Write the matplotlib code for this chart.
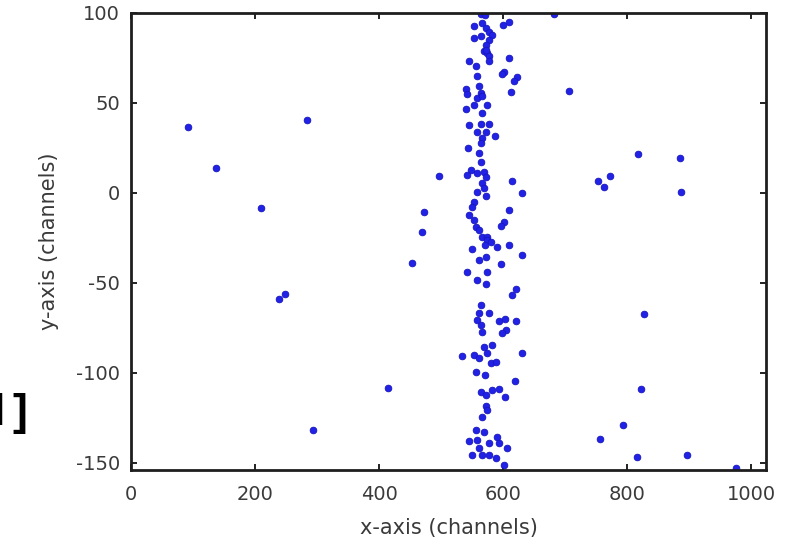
import matplotlib
matplotlib.use("Agg")
import matplotlib.pyplot as plt

plt.rcParams["axes.unicode_minus"] = False

# Hit positions (channel coordinates)
x_hits = [
    # central band
    563.8, 570.8, 609.6, 600.0, 553.0, 565.5, 573.0, 577.3, 581.6, 553.0,
    563.8, 577.3, 572.0, 569.0, 574.6, 577.3, 572.0, 609.6, 545.0, 577.3,
    555.8, 601.5, 597.8, 558.5, 623.0, 617.7, 561.2, 539.6, 542.3, 612.3,
    563.8, 558.5, 566.5, 553.0, 574.6, 539.6, 566.5, 545.0, 563.8, 577.3,
    558.5, 572.0, 587.0, 566.5, 563.8, 543.9, 561.2, 563.8, 547.7, 542.3,
    558.5, 569.2, 572.0, 565.5, 569.2, 558.5, 572.0, 615.0, 631.2, 553.0,
    550.4, 545.0, 553.0, 609.6, 601.5, 596.2, 555.8, 561.2, 566.5, 574.6,
    574.6, 580.0, 570.8, 590.8, 609.6, 550.4, 631.2, 572.0, 561.2, 596.2,
    542.3, 574.6, 558.5, 572.0, 620.4, 614.0, 563.8, 561.2, 577.3, 558.5,
    563.8, 593.5, 603.2, 621.5, 566.5, 604.2, 598.8, 569.2, 582.7,
    533.1, 553.0, 561.2, 574.6, 580.0, 588.0, 630.0, 555.8, 570.8, 619.3,
    563.8, 572.0, 582.7, 593.5, 603.2, 572.0, 574.6, 566.5, 555.8, 569.2,
    545.0, 558.5, 590.8, 577.3, 593.5, 607.0, 561.2, 550.4, 566.5, 577.3,
    588.0, 601.5,
    # scattered hits
    92.6, 137.3, 283.8, 210.0, 248.8, 238.0, 294.0, 415.0, 496.0, 473.0,
    468.5, 453.9, 681.7, 706.0, 817.0, 885.8, 752.3, 772.2, 762.0, 887.0,
    826.6, 822.3, 793.8, 756.6, 815.8, 896.6, 975.8,
]
y_hits = [
    # central band
    99.5, 98.7, 95.0, 93.5, 92.6, 94.5, 91.7, 89.5, 88.0, 86.1,
    87.0, 85.2, 82.4, 78.7, 77.8, 76.0, 79.7, 75.0, 73.2, 73.2,
    70.4, 67.2, 66.1, 64.8, 64.3, 62.4, 59.3, 57.8, 55.0, 55.9,
    55.6, 52.8, 53.7, 49.1, 49.1, 46.9, 44.5, 38.0, 38.4, 38.4,
    34.1, 34.1, 31.7, 30.4, 27.6, 24.8, 22.0, 17.4, 12.8, 10.0,
    11.0, 11.9, 9.1, 5.4, 2.6, 0.7, -1.7, 6.7, -0.2, -4.8,
    -8.0, -12.2, -15.0, -9.4, -15.9, -18.3, -18.7, -20.6, -24.3, -24.6,
    -26.3, -27.2, -28.7, -30.0, -29.1, -30.9, -34.6, -35.6, -37.4, -39.3,
    -43.9, -43.9, -48.5, -50.4, -53.2, -56.9, -62.4, -67.0, -67.0, -70.7,
    -73.5, -71.3, -70.2, -71.3, -77.2, -76.3, -77.6, -85.6, -84.6,
    -90.9, -90.0, -91.8, -89.1, -94.6, -93.7, -89.1, -99.3, -101.1, -104.8,
    -110.4, -112.2, -109.4, -108.9, -113.7, -118.7, -120.6, -124.3, -131.7, -133.0,
    -138.1, -137.2, -135.4, -139.1, -139.1, -141.9, -141.9, -145.5, -145.5, -145.5,
    -147.4, -151.1,
    # scattered hits
    36.5, 13.7, 40.6, -8.2, -56.1, -58.9, -131.7, -108.3, 9.4, -10.6,
    -21.7, -38.9, 99.4, 56.7, 21.5, 19.6, 6.9, 9.6, 3.5, 0.7,
    -67.2, -108.9, -128.9, -136.9, -146.9, -145.6, -153.0,
]

x_ticks = [0, 200, 400, 600, 800, 1000]
y_ticks = [-150, -100, -50, 0, 50, 100]

W, H = 792, 544
fig = plt.figure(figsize=(W / 100, H / 100), dpi=100)
fig.patch.set_facecolor("white")

left, right, top, bottom = 131, 766, 13, 470
ax = fig.add_axes([left / W, 1 - bottom / H, (right - left) / W, (bottom - top) / H])

ax.plot(x_hits, y_hits, linestyle="none", marker="o", markersize=4.8,
        color="#2222e6", markeredgecolor="#1616c0", markeredgewidth=0.6,
        clip_on=True)

ax.set_xlim(0, 1024)
ax.set_ylim(-154, 100)
ax.set_xticks(x_ticks)
ax.set_yticks(y_ticks)

text_color = "#3a3a3a"
ax.tick_params(axis="both", which="major", direction="in", length=4.5, width=1.4,
               top=True, right=True, labelsize=14, colors="#222222",
               labelcolor=text_color)
ax.tick_params(axis="x", pad=11)
ax.tick_params(axis="y", pad=8)

for sp in ax.spines.values():
    sp.set_linewidth(2.0)
    sp.set_color("#1e1e1e")

ax.set_xlabel("x-axis (channels)", fontsize=15, color=text_color, labelpad=10)
ax.set_ylabel("y-axis (channels)", fontsize=15, color=text_color, labelpad=12)

# trailing characters of the surrounding page text
fig.text(5 / W, 1 - 425 / H, "l", fontsize=32, fontweight="bold",
         family="Liberation Sans", ha="right", va="baseline", color="black")
fig.text(27 / W, 1 - 425 / H, "]", fontsize=32, fontweight="bold",
         family="Liberation Sans", ha="right", va="baseline", color="black")

fig.savefig("out.png", dpi=100, facecolor="white")
